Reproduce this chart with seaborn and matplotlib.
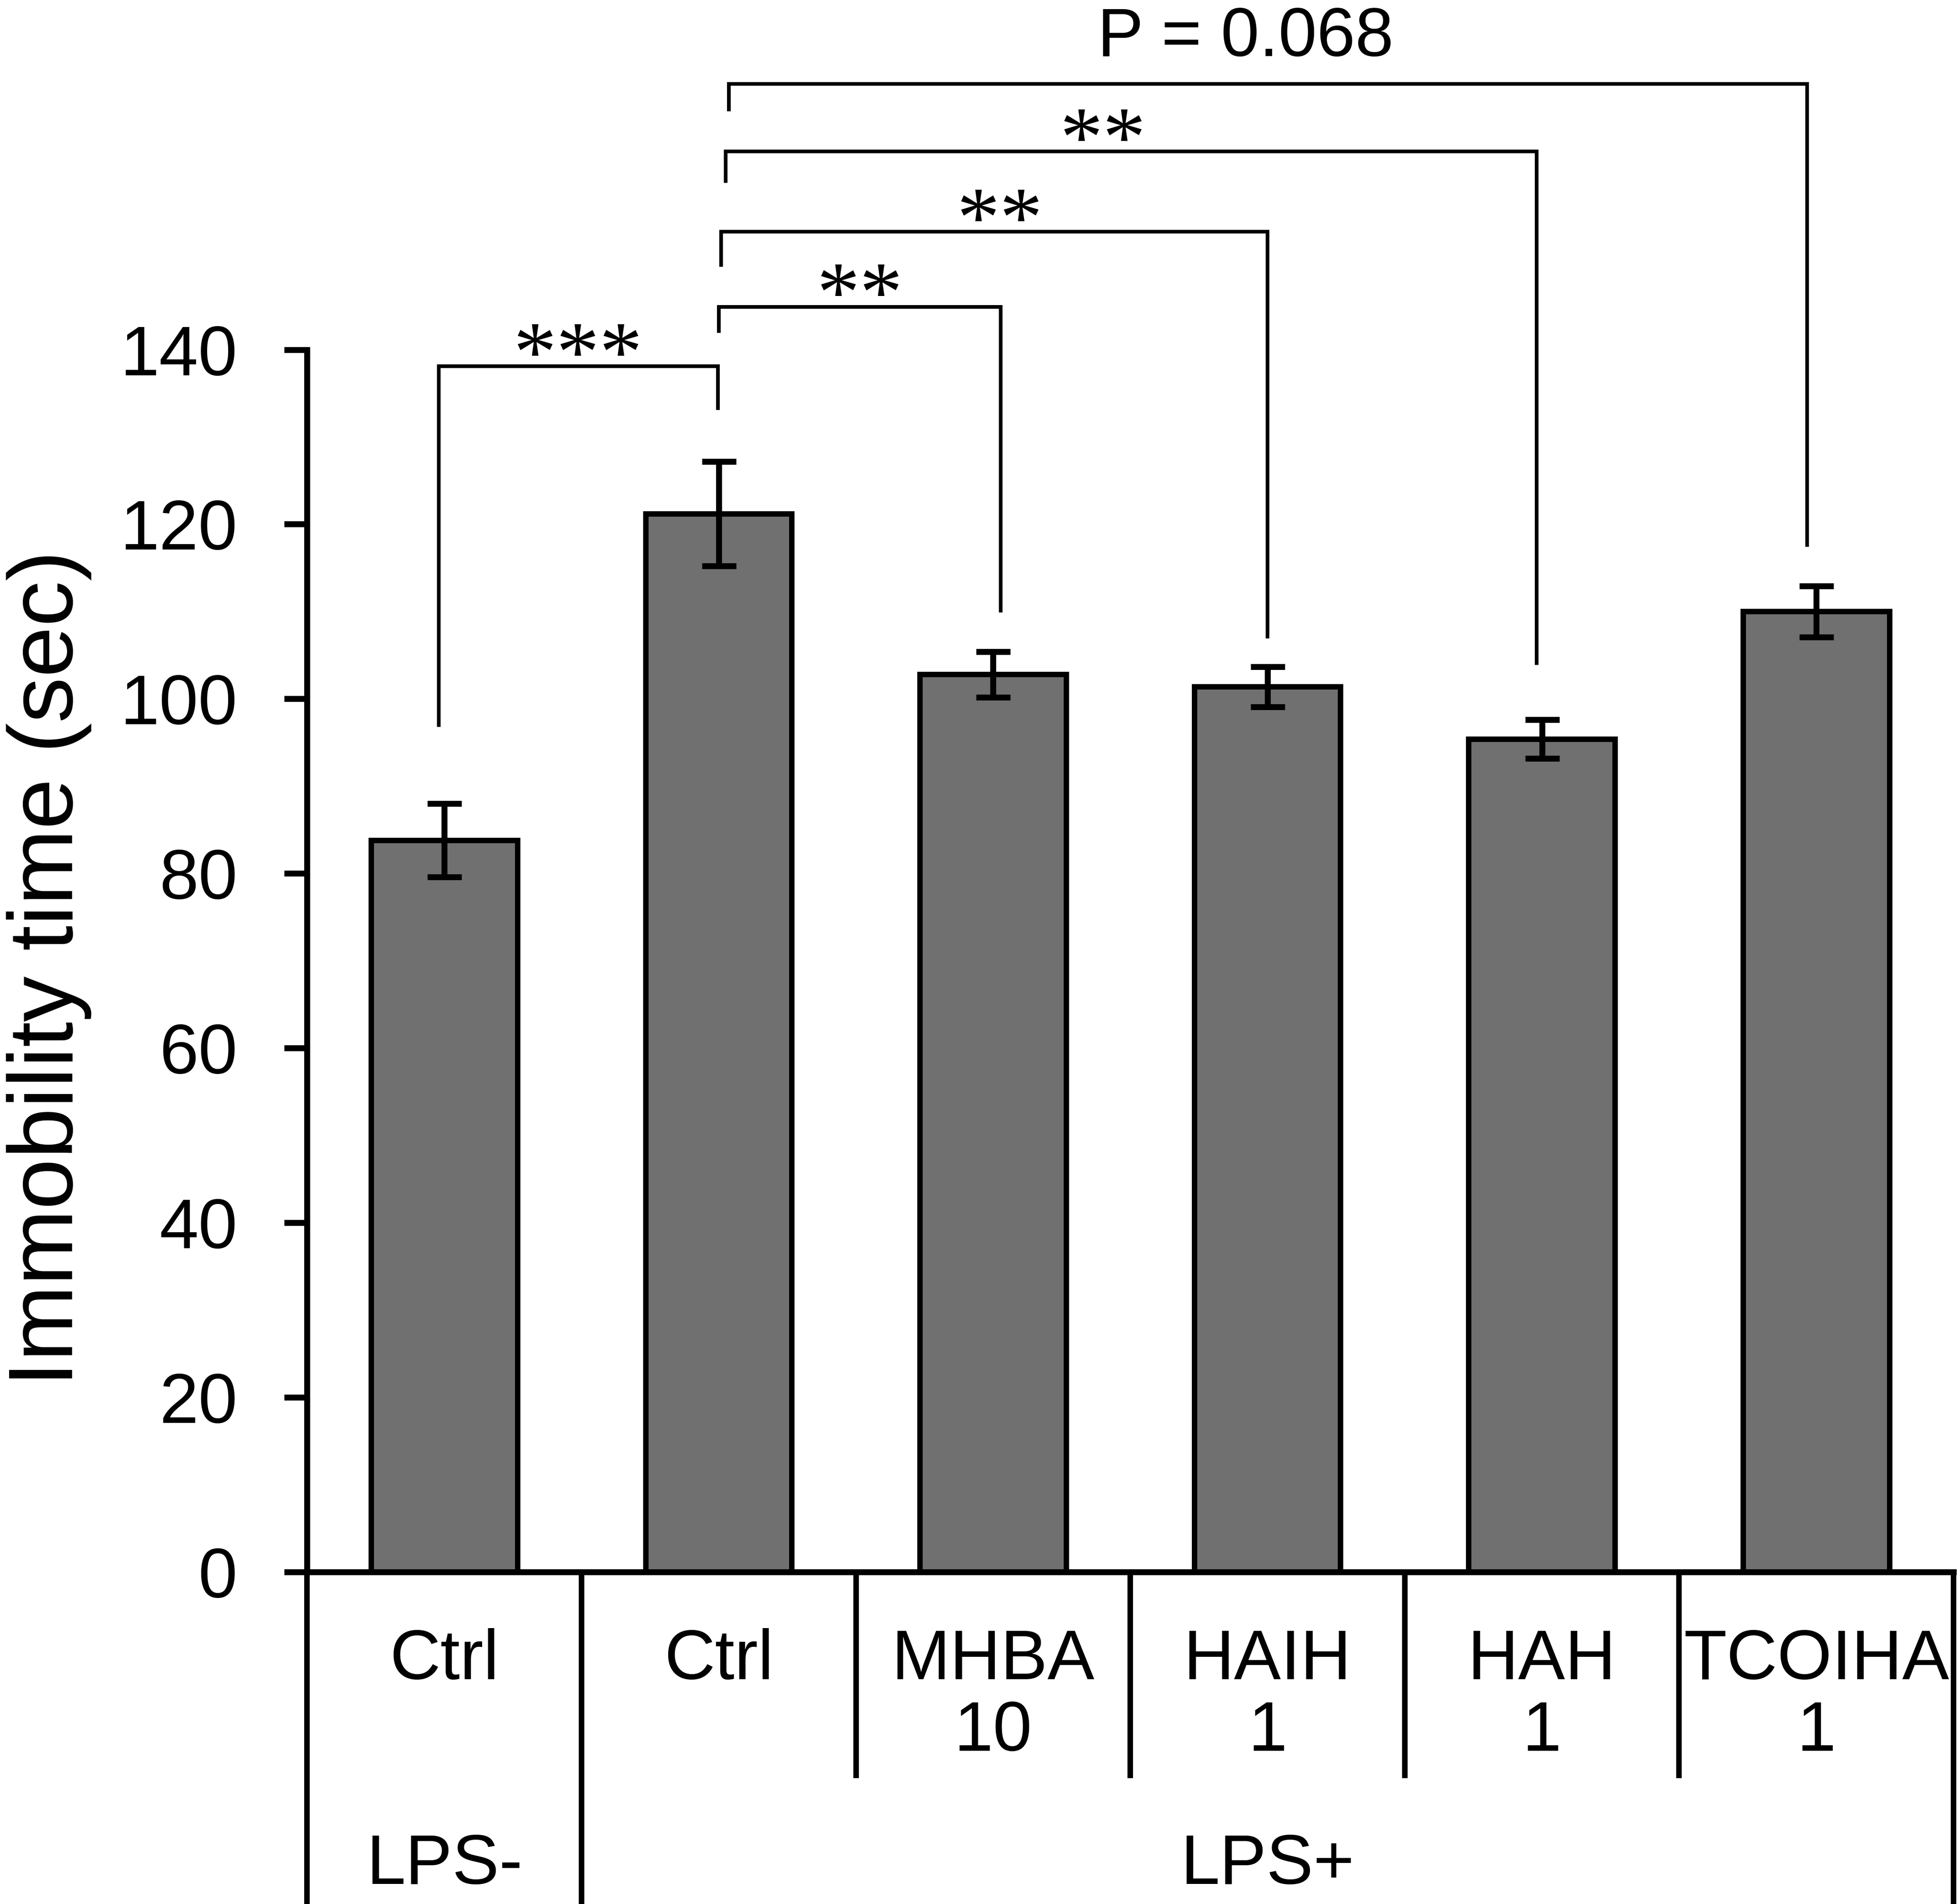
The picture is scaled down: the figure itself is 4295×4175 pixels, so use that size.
import numpy as np
import pandas as pd
import matplotlib
matplotlib.use("Agg")
import matplotlib.pyplot as plt
import seaborn as sns

# ---------------- data ----------------
groups = ["LPS- Ctrl", "LPS+ Ctrl", "MHBA 10", "HAIH 1", "HAH 1", "TCOIHA 1"]
tick_labels = ["Ctrl", "Ctrl", "MHBA\n10", "HAIH\n1", "HAH\n1", "TCOIHA\n1"]
means = [83.8, 121.2, 102.8, 101.4, 95.4, 110.0]
sems = [4.2, 6.0, 2.6, 2.3, 2.2, 2.9]
lps_labels = ["LPS-", "LPS+"]
yticks = [0, 20, 40, 60, 80, 100, 120, 140]
sig_labels = ["***", "**", "**", "**", "P = 0.068"]
# comparison pairs (left group index, right group index)
pairs = [(0, 1), (1, 2), (1, 3), (1, 4), (1, 5)]

# ---------------- layout/style ----------------
W, H, DPI = 4295, 4175, 100
sns.set_style("white")
plt.rcParams["font.family"] = ["Liberation Sans", "DejaVu Sans"]
for k in ["text.color", "axes.labelcolor", "xtick.color", "ytick.color",
          "axes.edgecolor"]:
    plt.rcParams[k] = "black"

fig = plt.figure(figsize=(W / DPI, H / DPI), dpi=DPI)
ax = fig.add_axes([0.1568, 0.1743, 0.9972 - 0.1568, 0.8164 - 0.1743])

df = pd.DataFrame({"group": groups, "value": means})
sns.barplot(data=df, x="group", y="value", order=groups, color="#707070",
            saturation=1, width=0.533, edgecolor="black", linewidth=8.6,
            errorbar=None, ax=ax)
ax.errorbar(x=np.arange(len(groups)), y=means, yerr=sems, fmt="none",
            ecolor="black", elinewidth=9.4, capsize=27, capthick=9.4, zorder=5)

ax.set_xlim(-0.5, 5.5)
ax.set_ylim(0, 140)
ax.set_yticks(yticks)
ax.set_yticklabels([str(t) for t in yticks], fontsize=111, color="black")
ax.set_xticks(np.arange(len(groups)))
ax.set_xticklabels(tick_labels, fontsize=111, linespacing=1.12, color="black")
ax.tick_params(axis="y", length=36, width=9.4, pad=74, direction="out",
               left=True, color="black")
ax.tick_params(axis="x", length=0, pad=88, bottom=False)
ax.set_xlabel("")
ax.set_ylabel("Immobility time (sec)", fontsize=144, color="black")
ax.yaxis.set_label_coords(-0.131, 0.494)

for s in ["top", "right"]:
    ax.spines[s].set_visible(False)
for s in ["left", "bottom"]:
    ax.spines[s].set_linewidth(9.4)
    ax.spines[s].set_color("black")

# category table lines below the axis
ybot, ymid = -38.5, -23.6
lw_tab = 8.8
for xv in [-0.5, 0.5, 5.5]:
    ax.plot([xv, xv], [0, ybot], color="black", lw=lw_tab, clip_on=False,
            solid_capstyle="butt")
for xv in [1.5, 2.5, 3.5, 4.5]:
    ax.plot([xv, xv], [0, ymid], color="black", lw=lw_tab, clip_on=False,
            solid_capstyle="butt")

ax.text(0, -35.7, lps_labels[0], ha="center", va="baseline", fontsize=111,
        color="black", clip_on=False)
ax.text(3, -35.7, lps_labels[1], ha="center", va="baseline", fontsize=111,
        color="black", clip_on=False)

# significance brackets
bar_y = [138.1, 144.9, 153.5, 162.7, 170.4]
left_bottom = [96.8, 141.9, 149.5, 159.1, 167.3]
right_bottom = [133.1, 109.9, 106.9, 103.9, 117.4]
x_off_l = [-0.02, 0.0, 0.008, 0.025, 0.037]
x_off_r = [-0.003, 0.028, 0.0, -0.02, -0.033]
label_x = [0.487, 1.515, 2.025, 2.40, 2.92]

for (i, j), by, lb, rb, ol, orr, lab, lx in zip(pairs, bar_y, left_bottom,
                                                right_bottom, x_off_l, x_off_r,
                                                sig_labels, label_x):
    xl, xr = i + ol, j + orr
    ax.plot([xl, xl, xr, xr], [lb, by, by, rb], color="black", lw=5.8,
            clip_on=False, solid_joinstyle="miter", solid_capstyle="butt")
    if lab.startswith("*"):
        ax.text(lx, by - 1.6, lab, ha="center", va="baseline",
                fontsize=136, family=["Liberation Serif", "DejaVu Serif"],
                color="black", clip_on=False)
    else:
        ax.text(lx, by + 3.2, lab, ha="center", va="baseline",
                fontsize=109, color="black", clip_on=False)

fig.savefig("out.png", dpi=DPI, facecolor="white")
